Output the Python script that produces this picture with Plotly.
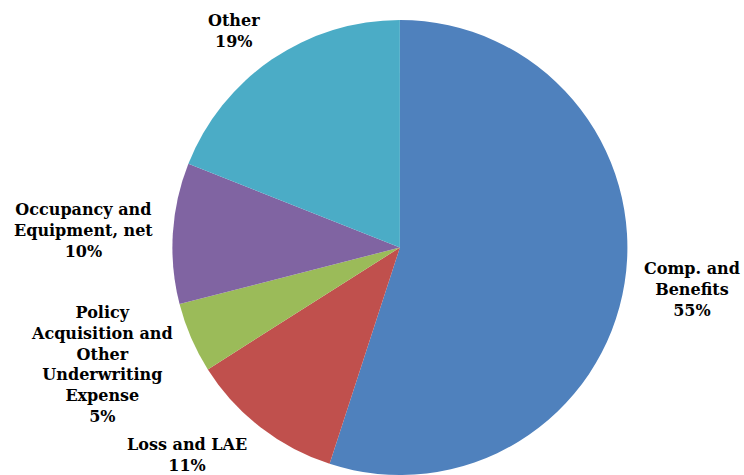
import math
import plotly.graph_objects as go

# Expense breakdown, percent of total
categories = [
    "Comp. and<br>Benefits",
    "Loss and LAE",
    "Policy<br>Acquisition and<br>Other<br>Underwriting<br>Expense",
    "Occupancy and<br>Equipment, net",
    "Other",
]
shares = [55, 11, 5, 10, 19]
colors = ["#4F81BD", "#C0504D", "#9BBB59", "#8064A2", "#4BACC6"]

W, H = 744, 475
MARGIN = dict(l=0, r=0, t=20, b=0)
DOMAIN_X = [0.231, 0.844]
DOMAIN_Y = [0.0, 1.0]
LABEL_GAP = 18      # px between pie edge and label box
FONT_SIZE = 16
LINE_H = 1.3 * FONT_SIZE

fig = go.Figure(
    go.Pie(
        labels=[c.replace("<br>", " ") for c in categories],
        values=shares,
        textinfo="none",
        sort=False,
        direction="clockwise",
        rotation=0,
        marker=dict(colors=colors, line=dict(width=0)),
        domain=dict(x=DOMAIN_X, y=DOMAIN_Y),
        showlegend=False,
        hoverinfo="label+percent",
    )
)

# Plot-area size and pie geometry in pixels
pw = W - MARGIN["l"] - MARGIN["r"]
ph = H - MARGIN["t"] - MARGIN["b"]
cx = (DOMAIN_X[0] + DOMAIN_X[1]) / 2
cy = (DOMAIN_Y[0] + DOMAIN_Y[1]) / 2
radius = min((DOMAIN_X[1] - DOMAIN_X[0]) * pw, (DOMAIN_Y[1] - DOMAIN_Y[0]) * ph) / 2

# Place each label just outside its slice, at the slice's mid angle
total = sum(shares)
start = 0.0
for cat, val in zip(categories, shares):
    sweep = 360.0 * val / total
    mid = math.radians(start + sweep / 2)  # clockwise from 12 o'clock
    start += sweep
    s, c = math.sin(mid), math.cos(mid)
    r = radius + LABEL_GAP
    x = cx + r * s / pw
    y = cy + r * c / ph
    xanchor = "left" if s > 0.3 else ("right" if s < -0.3 else "center")
    n_lines = cat.count("<br>") + 2
    block_h = n_lines * LINE_H
    fig.add_annotation(
        x=x,
        y=y,
        xref="paper",
        yref="paper",
        text=f"<b>{cat}<br>{val}%</b>",
        showarrow=False,
        xanchor=xanchor,
        yanchor="middle",
        yshift=0.8 * c * block_h / 2,
        align="center",
        font=dict(family="DejaVu Serif", size=FONT_SIZE, color="#000000"),
    )

fig.update_layout(
    width=W,
    height=H,
    margin=MARGIN,
    paper_bgcolor="white",
    plot_bgcolor="white",
)

fig.write_html("out.html")
